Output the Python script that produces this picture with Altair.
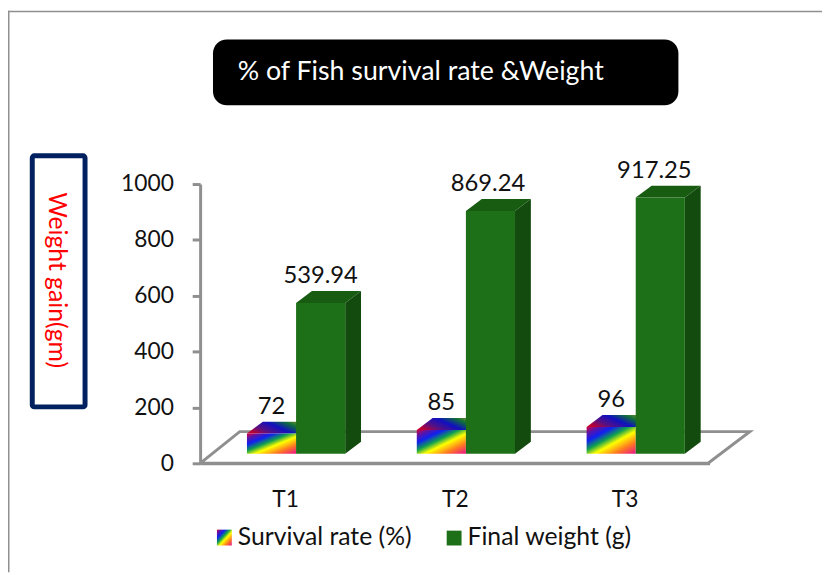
import altair as alt
import pandas as pd

categories = ["T1", "T2", "T3"]
survival_values = [72, 85, 96]
weight_values = [539.94, 869.24, 917.25]
series_names = ["Survival rate (%)", "Final weight (g)"]
title_text = "% of Fish survival rate &Weight"
axis_title = "Weight gain(gm)"
y_ticks = [0, 200, 400, 600, 800, 1000]

# geometry of the fake 3D view, in pixels of the plot area
W, H = 514.5, 282
STEP = W / 3
UY = H / 1000
X0, Y0 = 202, 183  # plot origin on the page
base_v = 9.7 / UY
dx_u, dy_v = 16 / STEP, 12 / UY
bw = 49.6 / STEP
lead = 47.3 / STEP

xs = alt.Scale(domain=[0, 3], nice=False, zero=False)
ys = alt.Scale(domain=[0, 1000], nice=False)
GREY = "#8f8f8f"
FONT = "Lato"

x_axis = alt.Axis(
    values=[0.5, 1.5, 2.5], grid=False, ticks=False, domainColor=GREY, domainWidth=3, title=None,
    labelExpr="['T1','T2','T3'][floor(datum.value)]",
    labelFont=FONT, labelFontSize=23, labelColor="#111111", labelPadding=26)
y_axis = alt.Axis(
    values=y_ticks, grid=False, tickColor=GREY, tickWidth=3, tickSize=8, domainColor=GREY, title=None,
    domainWidth=3, format="d", labelFont=FONT, labelFontSize=23, labelColor="#111111", labelPadding=19)


def X(f="x:Q"):
    return alt.X(f, scale=xs, axis=x_axis)


def Y(f="y:Q"):
    return alt.Y(f, scale=ys, axis=y_axis)


def front_table(values, shift):
    rows = []
    for i, (c, v) in enumerate(zip(categories, values)):
        l = i + lead + shift * bw
        rows.append(dict(cat=c, x=l, x2=l + bw, y=base_v, y2=base_v + v, v=v))
    return pd.DataFrame(rows)


def top_table(values, shift):
    rows = []
    for i, (c, v) in enumerate(zip(categories, values)):
        l = i + lead + shift * bw
        t = base_v + v
        rows.append(dict(cat=c, y=t, x=l, x2=l + bw))
        rows.append(dict(cat=c, y=t + dy_v, x=l + dx_u, x2=l + bw + dx_u))
    return pd.DataFrame(rows)


def side_table(values, shift):
    rows = []
    for i, (c, v) in enumerate(zip(categories, values)):
        r = i + lead + (shift + 1) * bw
        t = base_v + v
        rows.append(dict(cat=c, x=r, y=base_v, y2=t))
        rows.append(dict(cat=c, x=r + dx_u, y=base_v + dy_v, y2=t + dy_v))
    return pd.DataFrame(rows)


def front_mark(df, fill):
    return alt.Chart(df).mark_rect(color=fill).encode(x=X(), x2="x2:Q", y=Y(), y2="y2:Q")


def top_mark(df, fill):
    return alt.Chart(df).mark_area(orient="horizontal", color=fill, opacity=1).encode(
        y=Y(), x=X(), x2="x2:Q", detail="cat:N")


def side_mark(df, fill):
    return alt.Chart(df).mark_area(orient="vertical", color=fill, opacity=1).encode(
        x=X(), y=Y(), y2="y2:Q", detail="cat:N")


rainbow_front = alt.LinearGradient(
    gradient="linear", x1=0, y1=0, x2=1, y2=1,
    stops=[
        alt.GradientStop(offset=0.0, color="#d8003c"),
        alt.GradientStop(offset=0.13, color="#5a14a8"),
        alt.GradientStop(offset=0.27, color="#1020f0"),
        alt.GradientStop(offset=0.43, color="#10a050"),
        alt.GradientStop(offset=0.58, color="#ffff00"),
        alt.GradientStop(offset=0.78, color="#ff7a20"),
        alt.GradientStop(offset=1.0, color="#e8108c"),
    ])
rainbow_top = alt.LinearGradient(
    gradient="linear", x1=0, y1=0.7, x2=1, y2=0.3,
    stops=[
        alt.GradientStop(offset=0.0, color="#c00030"),
        alt.GradientStop(offset=0.22, color="#5a1080"),
        alt.GradientStop(offset=0.5, color="#1010c0"),
        alt.GradientStop(offset=0.75, color="#10703a"),
        alt.GradientStop(offset=1.0, color="#9a9a20"),
    ])
G_FRONT, G_TOP, G_SIDE = "#1e7018", "#185c12", "#134a0e"

# floor
floor_df = pd.DataFrame({
    "o": [0, 1, 2, 3, 4],
    "x": [0, 40 / STEP, (757 - X0) / STEP, (715 - X0) / STEP, 0],
    "y": [0, 32 / UY, 32 / UY, 0, 0],
})
floor = alt.Chart(floor_df).mark_line(color=GREY, strokeWidth=3).encode(x=X(), y=Y(), order="o:Q")

# value labels
label_rows = []
for i, c in enumerate(categories):
    label_rows.append(dict(x=i + lead + bw / 2, y=base_v + survival_values[i] + dy_v, t=f"{survival_values[i]}"))
for i, (c, s) in enumerate(zip(categories, [0, -2.5, -6])):
    label_rows.append(dict(x=i + lead + 1.5 * bw + s / STEP, y=base_v + weight_values[i] + dy_v, t=f"{weight_values[i]:.2f}"))
labels = alt.Chart(pd.DataFrame(label_rows)).mark_text(
    font=FONT, fontSize=24, color="#111111", baseline="middle", dy=-15).encode(
    x=X(), y=Y(), text="t:N")


def pxrect(x0, x1, y0, y1, **kw):
    return alt.Chart(pd.DataFrame({"a": [0]})).mark_rect(**kw).encode(
        x=alt.value(x0 - X0), x2=alt.value(x1 - X0),
        y=alt.value(y0 - Y0), y2=alt.value(y1 - Y0))


def pxtext(t, x, y, **kw):
    return alt.Chart(pd.DataFrame({"a": [0]})).mark_text(text=t, font=FONT, baseline="middle", **kw).encode(
        x=alt.value(x - X0), y=alt.value(y - Y0))


frame = [
    pxrect(8, 830, 8, 9.5, color=GREY),
    pxrect(8, 9.5, 8, 575, color=GREY),
]
title_box = pxrect(215, 685, 37, 103.5, color="#000000", cornerRadius=14)
title = pxtext(title_text, 240, 70, align="left", fontSize=27, color="#ffffff")
ybox = pxrect(32.5, 85.8, 154.5, 408, fill="#ffffff", stroke="#002060", strokeWidth=5, cornerRadius=2)
ytitle = pxtext(axis_title, 57, 280, align="center", angle=90, fontSize=25, color="#ff0000")
leg1 = pxrect(219, 234, 532, 548, color=rainbow_front)
leg2 = pxrect(451, 466, 533, 548, color=G_FRONT)
legt1 = pxtext(series_names[0], 240, 540, align="left", fontSize=25, color="#111111")
legt2 = pxtext(series_names[1], 472, 540, align="left", fontSize=25, color="#111111")

chart = alt.layer(
    *frame, floor,
    top_mark(top_table(survival_values, 0), rainbow_top),
    front_mark(front_table(survival_values, 0), rainbow_front),
    top_mark(top_table(weight_values, 1), G_TOP),
    side_mark(side_table(weight_values, 1), G_SIDE),
    front_mark(front_table(weight_values, 1), G_FRONT),
    labels, title_box, title, ybox, ytitle, leg1, leg2, legt1, legt2,
).properties(
    width=W, height=H, autosize=alt.AutoSizeParams(type="none"),
    padding={"left": X0 - 8, "top": Y0 - 8, "right": 822 - (X0 - 8) - W, "bottom": 108},
    background="#ffffff",
).configure_view(stroke=None)

chart.save("out.html", embed_options={"renderer": "svg", "actions": False})
